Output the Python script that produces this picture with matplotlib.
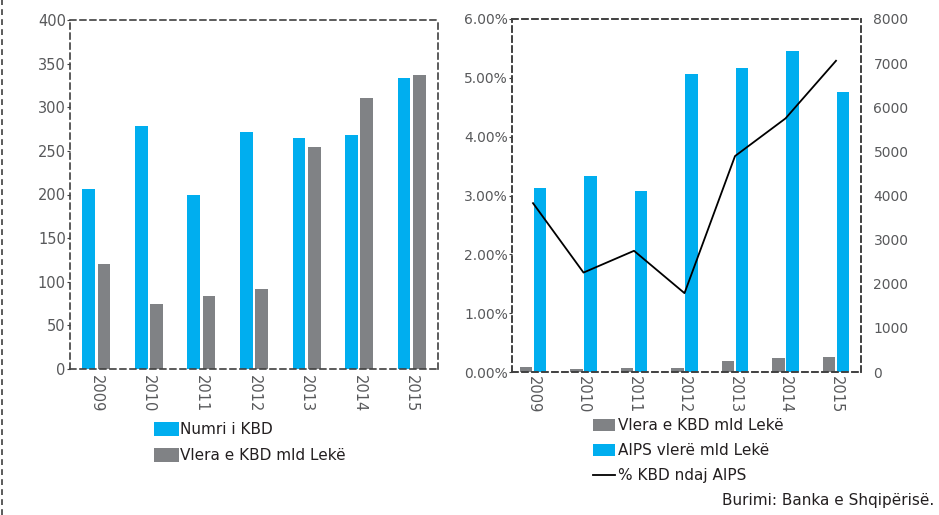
import numpy as np
import matplotlib
matplotlib.use("Agg")
import matplotlib.pyplot as plt
from matplotlib.lines import Line2D
from matplotlib.ticker import FuncFormatter

plt.rcParams['font.family'] = ['DejaVu Sans']

years = ["2009", "2010", "2011", "2012", "2013", "2014", "2015"]
numri_kbd = [206, 279, 199, 272, 265, 268, 333]
vlera_kbd = [120, 75, 84, 92, 254, 311, 337]
aips_vlere = [4175, 4440, 4095, 6760, 6890, 7270, 6350]
kbd_ndaj_aips = [2.87, 1.69, 2.06, 1.34, 3.67, 4.31, 5.29]

BLUE = "#00AEEF"
GREY = "#808285"
TICK_C = "#58595B"
TEXT_C = "#231F20"
FRAME_C = "#404040"

W, H = 939, 515
fig = plt.figure(figsize=(W / 100, H / 100), dpi=100)


def box(x0, y0, x1, y1):
    return [x0 / W, 1 - y1 / H, (x1 - x0) / W, (y1 - y0) / H]


def dashed_frame(ax):
    for s in ax.spines.values():
        s.set_linestyle((0, (3.5, 2.5)))
        s.set_linewidth(1.2)
        s.set_color(FRAME_C)


x = np.arange(len(years))

# ---- left panel: number and value of KBD ----
ax1 = fig.add_axes(box(70, 20, 438, 369))
bw = 0.24
ax1.bar(x - 0.145, numri_kbd, bw, color=BLUE, label="Numri i KBD")
ax1.bar(x + 0.145, vlera_kbd, bw, color=GREY, label="Vlera e KBD mld Lekë")
ax1.set_xlim(-0.5, 6.5)
ax1.set_ylim(0, 400)
ax1.set_yticks(range(0, 401, 50))
ax1.set_xticks(x)
ax1.set_xticklabels(years, rotation=270, fontsize=10.5, color=TICK_C)
ax1.tick_params(axis="x", length=0, pad=4)
ax1.tick_params(axis="y", length=2, width=0.8, color=FRAME_C, labelsize=10.5,
                labelcolor=TICK_C, pad=1)
dashed_frame(ax1)
ax1.legend(loc="upper left", bbox_to_anchor=(154 / W, 1 - 422 / H),
           bbox_transform=fig.transFigure, frameon=False, fontsize=11,
           handlelength=1.65, handleheight=1.05, handletextpad=0.05,
           labelspacing=0.7, borderpad=0, borderaxespad=0,
           labelcolor=TEXT_C)

# ---- right panel: AIPS value and KBD share ----
ax2 = fig.add_axes(box(512, 19, 861, 372))
ax3 = ax2.twinx()
ax3.bar(x - 0.139, vlera_kbd, bw, color=GREY, label="Vlera e KBD mld Lekë")
ax3.bar(x + 0.139, aips_vlere, bw, color=BLUE, label="AIPS vlerë mld Lekë")
ax3.set_ylim(0, 8000)
ax3.set_yticks(range(0, 8001, 1000))
ax3.tick_params(axis="y", length=0, labelsize=10, labelcolor=TICK_C, pad=9)

ax2.plot(x, kbd_ndaj_aips, color="black", lw=1.3, label="% KBD ndaj AIPS")
ax2.set_ylim(0, 6)
ax2.set_yticks(range(0, 7))
ax2.yaxis.set_major_formatter(FuncFormatter(lambda v, p: f"{v:.2f}%"))
ax2.set_xlim(-0.416, 6.495)
ax2.set_xticks(x)
ax2.set_xticklabels(years, rotation=270, fontsize=10.5, color=TICK_C)
ax2.tick_params(axis="x", length=0, pad=3)
ax2.tick_params(axis="y", length=2, width=0.8, color=FRAME_C, labelsize=10,
                labelcolor=TICK_C, pad=1)
ax2.set_zorder(ax3.get_zorder() + 1)
ax2.patch.set_visible(False)
dashed_frame(ax2)
dashed_frame(ax3)

h3, l3 = ax3.get_legend_handles_labels()
h2, l2 = ax2.get_legend_handles_labels()
ax2.legend(h3 + h2, l3 + l2, loc="upper left",
           bbox_to_anchor=(593 / W, 1 - 418 / H),
           bbox_transform=fig.transFigure, frameon=False, fontsize=11,
           handlelength=1.45, handleheight=0.8, handletextpad=0.2,
           labelspacing=0.66, borderpad=0, borderaxespad=0,
           labelcolor=TEXT_C)

fig.text(934 / W, 1 - 501 / H, "Burimi: Banka e Shqipërisë.", ha="right",
         va="center", fontsize=11, color=TEXT_C)

# dashed border along the left edge of the page
fig.add_artist(Line2D([1.5 / W, 1.5 / W], [0, 1], transform=fig.transFigure,
                      color=FRAME_C, lw=1.2, linestyle=(0, (3.5, 2.5))))

fig.savefig("out.png", dpi=100)
